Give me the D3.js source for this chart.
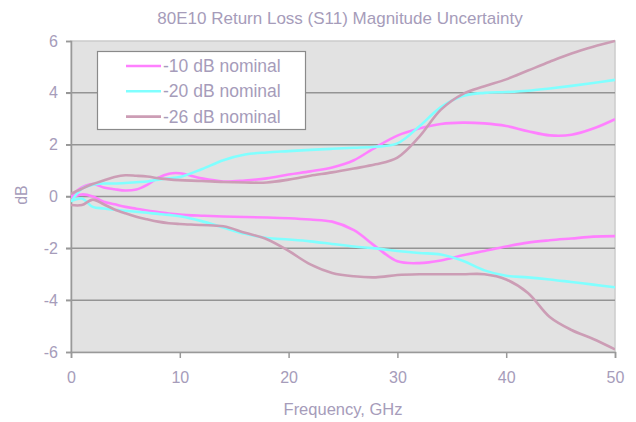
<!DOCTYPE html>
<html><head><meta charset="utf-8">
<script src="https://cdn.jsdelivr.net/npm/d3@7"></script>
<style>
html,body{margin:0;padding:0;background:#fff;}
svg{display:block;font-family:"Liberation Sans",Arial,sans-serif;}
</style></head><body>
<svg id="chart" width="636" height="422"></svg>
<script>
const title = "80E10 Return Loss (S11) Magnitude Uncertainty";
const xLabel = "Frequency, GHz";
const yLabel = "dB";
const xTicks = [0, 10, 20, 30, 40, 50];
const yTicks = [-6, -4, -2, 0, 2, 4, 6];
const seriesNames = ["-10 dB nominal", "-20 dB nominal", "-26 dB nominal"];

const freq = [0,1,2,3,4,5,6,7,8,9,10,12,14,16,18,20,22,24,26,28,30,32,34,36,38,40,42,44,46,48,50];

const m10Hi = [0.0,0.35,0.48,0.35,0.28,0.23,0.27,0.45,0.72,0.88,0.9,0.7,0.58,0.62,0.7,0.85,0.97,1.12,1.4,1.9,2.35,2.62,2.8,2.85,2.82,2.72,2.52,2.36,2.38,2.62,2.98];
const m10Lo = [-0.05,0.08,0.0,-0.2,-0.3,-0.4,-0.47,-0.54,-0.6,-0.66,-0.7,-0.74,-0.77,-0.79,-0.81,-0.84,-0.89,-0.97,-1.3,-1.93,-2.5,-2.57,-2.47,-2.27,-2.1,-1.93,-1.78,-1.69,-1.62,-1.55,-1.53];
const c20Hi = [-0.2,0.3,0.45,0.5,0.5,0.52,0.55,0.58,0.65,0.7,0.75,1.05,1.4,1.62,1.7,1.75,1.8,1.84,1.88,1.92,2.05,2.7,3.45,3.88,4.0,4.03,4.08,4.17,4.27,4.38,4.5];
const c20Lo = [-0.18,-0.08,-0.4,-0.46,-0.51,-0.55,-0.59,-0.63,-0.67,-0.71,-0.76,-0.95,-1.2,-1.44,-1.6,-1.66,-1.73,-1.83,-1.93,-2.0,-2.1,-2.18,-2.24,-2.48,-2.85,-3.06,-3.12,-3.2,-3.3,-3.4,-3.5];
const r26Hi = [0.1,0.3,0.48,0.62,0.75,0.82,0.8,0.77,0.71,0.66,0.63,0.6,0.56,0.54,0.54,0.65,0.8,0.93,1.08,1.24,1.5,2.3,3.35,3.95,4.25,4.52,4.86,5.2,5.52,5.78,6.0];
const r26Lo = [-0.33,-0.33,-0.12,-0.3,-0.5,-0.65,-0.78,-0.88,-0.97,-1.03,-1.06,-1.1,-1.15,-1.4,-1.65,-2.1,-2.62,-2.95,-3.08,-3.12,-3.03,-3.0,-3.0,-3.0,-3.0,-3.2,-3.72,-4.65,-5.15,-5.5,-5.9];

const colors = ["#ff80ff", "#80ffff", "#cc9db5"];
const textColor = "#a69cba";

const lines = [
  {s:0, v:m10Hi},{s:0, v:m10Lo},
  {s:1, v:c20Hi},{s:1, v:c20Lo},
  {s:2, v:r26Hi},{s:2, v:r26Lo}
];

const svg = d3.select("#chart");
const L = 71, R = 615, T = 41, B = 352;
const x = d3.scaleLinear().domain([0, 50]).range([L, R]);
const y = d3.scaleLinear().domain([-6, 6]).range([B, T]);

svg.append("rect").attr("x", L).attr("y", T).attr("width", R - L).attr("height", B - T)
  .attr("fill", "#e2e2e2").attr("stroke", "#cccccc").attr("stroke-width", 1.5);

svg.append("g").selectAll("line").data(yTicks.filter(d => d > -6 && d < 6)).join("line")
  .attr("x1", L - 5).attr("x2", R).attr("y1", d => y(d)).attr("y2", d => y(d))
  .attr("stroke", "#949494").attr("stroke-width", 1.5);

const yAxis = svg.append("g").attr("transform", `translate(${L},0)`)
  .call(d3.axisLeft(y).tickValues(yTicks).tickSize(5).tickPadding(8).tickFormat(d => d < 0 ? "-" + Math.abs(d) : String(d)));
yAxis.select(".domain").attr("stroke", "#999").attr("stroke-width", 1.5);
yAxis.selectAll(".tick line").attr("stroke", "#999").attr("stroke-width", 1.5);
yAxis.selectAll(".tick text").attr("fill", textColor).style("font-size", "16px").style("font-family", "'Liberation Sans', Arial, sans-serif");

const xAxis = svg.append("g").attr("transform", `translate(0,${B})`)
  .call(d3.axisBottom(x).tickValues(xTicks).tickSize(6).tickPadding(14).tickFormat(d3.format("d")));
xAxis.select(".domain").attr("stroke", "#999").attr("stroke-width", 1.5);
xAxis.selectAll(".tick line").attr("stroke", "#999").attr("stroke-width", 1.5);
xAxis.selectAll(".tick text").attr("fill", textColor).style("font-size", "16px").style("font-family", "'Liberation Sans', Arial, sans-serif");

const lineGen = d3.line().x((d, i) => x(freq[i])).y(d => y(d)).curve(d3.curveCatmullRom.alpha(0.5));
svg.append("clipPath").attr("id", "clip").append("rect")
  .attr("x", L).attr("y", T - 2).attr("width", R - L).attr("height", B - T + 4);
svg.append("g").attr("clip-path", "url(#clip)").selectAll("path").data(lines).join("path")
  .attr("d", d => lineGen(d.v)).attr("fill", "none")
  .attr("stroke", d => colors[d.s]).attr("stroke-width", 2.6);

svg.append("text").attr("x", 340).attr("y", 24).attr("text-anchor", "middle")
  .attr("fill", textColor).style("font-size", "17px").text(title);

svg.append("text").attr("x", (L + R) / 2).attr("y", 415).attr("text-anchor", "middle")
  .attr("fill", textColor).style("font-size", "16.5px").text(xLabel);

svg.append("text").attr("transform", "translate(27,195) rotate(-90)").attr("text-anchor", "middle")
  .attr("fill", textColor).style("font-size", "16px").text(yLabel);

const lg = svg.append("g");
lg.append("rect").attr("x", 97.5).attr("y", 51.5).attr("width", 208).attr("height", 78)
  .attr("fill", "#fff").attr("stroke", "#8a8a8a").attr("stroke-width", 1.2);
const items = lg.selectAll("g.item").data(seriesNames).join("g").attr("class", "item")
  .attr("transform", (d, i) => `translate(0,${66 + i * 25.3})`);
items.append("line").attr("x1", 126).attr("x2", 161).attr("y1", 0).attr("y2", 0)
  .attr("stroke", (d, i) => colors[i]).attr("stroke-width", 2.6);
items.append("text").attr("x", 163).attr("y", 6).attr("fill", textColor)
  .style("font-size", "17.5px").text(d => d);
</script>
</body></html>
